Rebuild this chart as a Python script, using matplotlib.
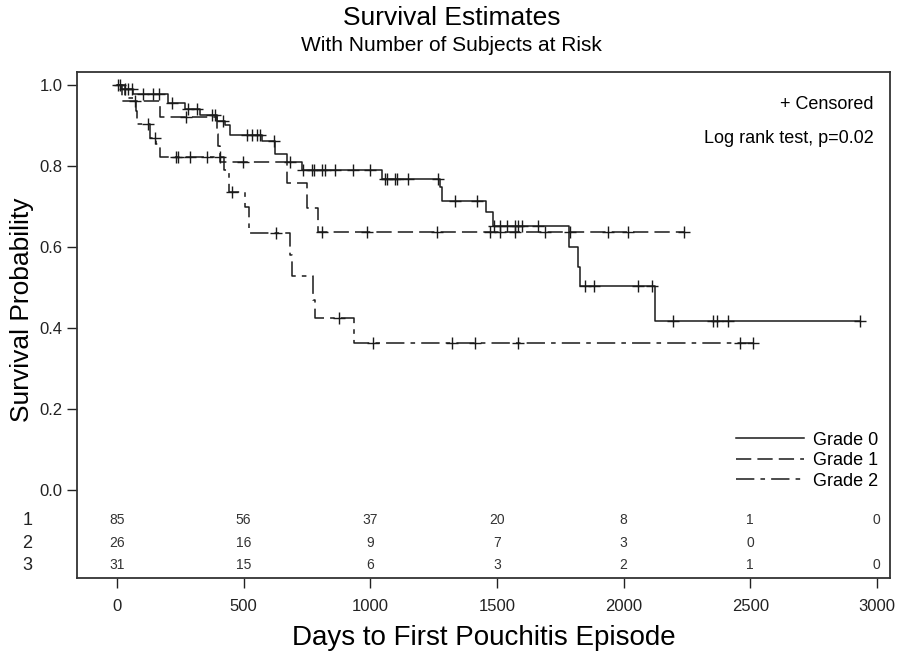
import numpy as np
import matplotlib
matplotlib.use("Agg")
import matplotlib.pyplot as plt

plt.rcParams['font.family'] = ['Liberation Sans', 'DejaVu Sans']

# Kaplan-Meier steps: event times (days) and survival after each event
g0_times = [15, 63, 200, 268, 328, 395, 426, 446, 572, 624, 671, 730, 1046, 1275, 1283,
            1456, 1484, 1784, 1820, 1827, 2124]
g0_surv = [0.99, 0.977, 0.955, 0.94, 0.926, 0.912, 0.90, 0.877, 0.862, 0.83, 0.81, 0.79,
           0.768, 0.748, 0.714, 0.686, 0.652, 0.60, 0.55, 0.504, 0.418]
g0_cens = [4, 12, 32, 43, 59, 103, 142, 166, 217, 280, 316, 375, 387, 418, 513, 533, 553,
           565, 620, 683, 734, 770, 778, 809, 821, 860, 931, 999, 1058, 1066, 1097, 1105,
           1149, 1267, 1334, 1421, 1490, 1512, 1539, 1571, 1583, 1598, 1662, 1847, 1883,
           2056, 2112, 2195, 2352, 2368, 2412, 2933]

g1_times = [20, 170, 395, 400, 407, 671, 750, 793]
g1_surv = [0.96, 0.92, 0.88, 0.85, 0.81, 0.758, 0.696, 0.636]
g1_cens = [71, 272, 497, 809, 987, 1263, 1472, 1512, 1571, 1689, 1788, 1938, 2017, 2240]

g2_times = [32, 75, 79, 130, 152, 170, 422, 442, 505, 521, 683, 691, 774, 781, 935]
g2_surv = [0.968, 0.935, 0.903, 0.87, 0.855, 0.822, 0.79, 0.735, 0.70, 0.635, 0.58, 0.528,
           0.47, 0.425, 0.363]
g2_cens = [122, 148, 233, 241, 288, 355, 407, 454, 628, 876, 1010, 1322, 1413, 1583, 2459,
           2512]

groups = ["Grade 0", "Grade 1", "Grade 2"]
styles = ["-", (0, (10, 4)), (0, (12, 4, 3, 4))]

# numbers at risk
risk_times = [0, 500, 1000, 1500, 2000, 2500, 3000]
risk_rows = ["1", "2", "3"]
risk_1 = ["85", "56", "37", "20", "8", "1", "0"]
risk_2 = ["26", "16", "9", "7", "3", "0", ""]
risk_3 = ["31", "15", "6", "3", "2", "1", "0"]

col = "#1a1a1a"

fig = plt.figure(figsize=(9, 6.54), dpi=100)
ax = fig.add_axes([77 / 900, 1 - 578 / 654, 813 / 900, 506 / 654])

data = [(g0_times, g0_surv, g0_cens), (g1_times, g1_surv, g1_cens), (g2_times, g2_surv, g2_cens)]
for (tt, ss, cc), name, ls in zip(data, groups, styles):
    end = max(max(cc), max(tt))
    x = [0] + tt + [end]
    y = [1.0] + ss + [ss[-1]]
    ax.step(x, y, where="post", color=col, lw=1.1, linestyle=ls, label=name)
    idx = np.searchsorted(tt, cc, side="right")
    cy = np.array([1.0] + ss)[idx]
    ax.plot(cc, cy, linestyle="none", marker="+", ms=8, mew=1.0, color=col)

ax.set_xlim(-158, 3052)
ax.set_ylim(-0.217, 1.032)
ax.set_yticks(np.arange(0, 1.01, 0.2))
ax.set_yticklabels(["%.1f" % v for v in np.arange(0, 1.01, 0.2)])
ax.set_xticks(risk_times)
ax.tick_params(axis="both", direction="out", length=7, width=1, labelsize=12, colors="#222222")
ax.tick_params(axis="x", pad=8)
for sp in ax.spines.values():
    sp.set_linewidth(1.3)
    sp.set_color("#333333")

# at-risk table inside the frame
for row, vals, yv in zip(risk_rows, [risk_1, risk_2, risk_3], [-0.074, -0.131, -0.185]):
    for t, v in zip(risk_times, vals):
        ax.text(t, yv, v, ha="center", va="center", fontsize=10, color="#333333")
    ax.text(-0.055, yv, row, transform=ax.get_yaxis_transform(), ha="right", va="center",
            fontsize=13, color="#222222")

# y label placed in figure space so it stays inside the picture
fig.text(22 / 900, 1 - 310 / 654, "Survival Probability", rotation=90, ha="center",
         va="center", fontsize=19)
ax.set_xlabel("Days to First Pouchitis Episode", fontsize=20, labelpad=8)

ax.text(0.98, 0.935, "+ Censored", transform=ax.transAxes, ha="right", va="center", fontsize=13)
ax.text(0.98, 0.868, "Log rank test, p=0.02", transform=ax.transAxes, ha="right", va="center",
        fontsize=13)

ax.legend(loc="lower right", bbox_to_anchor=(0.995, 0.16), frameon=False, fontsize=13,
          handlelength=3.8, handletextpad=0.5, labelspacing=0.2, borderaxespad=0)

fig.text(0.502, 0.972, "Survival Estimates", ha="center", va="center", fontsize=19)
fig.text(0.502, 0.93, "With Number of Subjects at Risk", ha="center", va="center", fontsize=15)

fig.savefig("out.png", dpi=100)
